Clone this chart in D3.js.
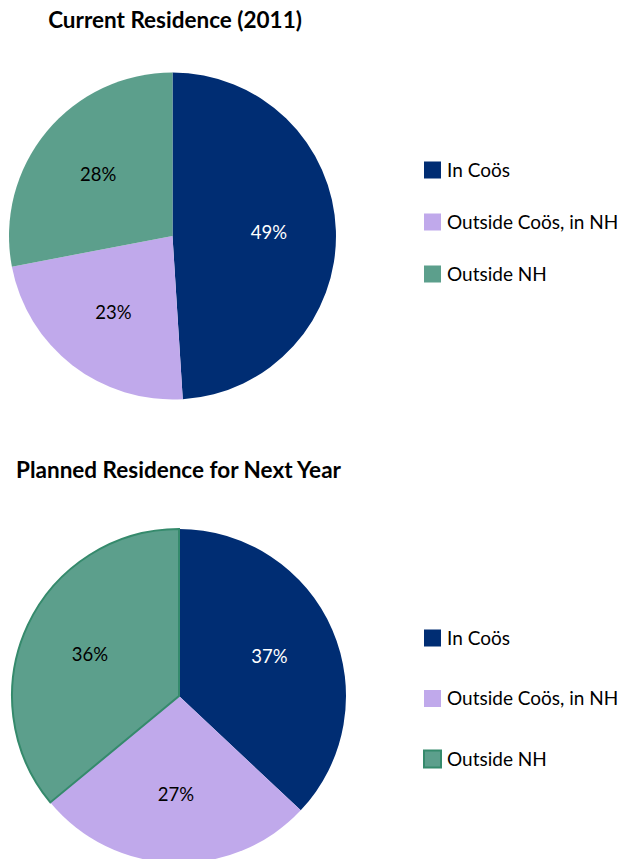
<!DOCTYPE html>
<html>
<head>
<meta charset="utf-8">
<script src="https://cdn.jsdelivr.net/npm/d3@7"></script>
<style>
  body { margin: 0; background: #fff; }
  svg { display: block; }
  text { font-family: "Lato", "Noto Sans", sans-serif; }
</style>
</head>
<body>
<svg id="chart" width="620" height="859"></svg>
<script>
"use strict";

const categories = ["In Coös", "Outside Coös, in NH", "Outside NH"];
const currentValues = [49, 23, 28];
const plannedValues = [37, 27, 36];
const titles = ["Current Residence (2011)", "Planned Residence for Next Year"];
const sliceColors = ["#002d73", "#c0a9eb", "#5c9f8c"];
const labelColors = ["#ffffff", "#000000", "#000000"];

const svg = d3.select("#chart");

// one panel per pie
const panels = [
    {title: titles[0], values: currentValues, titleX: 175, titleY: 28, cx: 172.5, cy: 236, r: 163.5,
     legendY: 170, legendStep: 52, outline: false},
    {title: titles[1], values: plannedValues, titleX: 178.5, titleY: 478, cx: 179, cy: 696, r: 167,
     legendY: 638, legendStep: 60.5, outline: true}
];

const color = d3.scaleOrdinal().domain(categories).range(sliceColors);
const labelColor = d3.scaleOrdinal().domain(categories).range(labelColors);

function drawPanel(p) {
    const data = categories.map((c, i) => ({name: c, value: p.values[i]}));
    const pie = d3.pie().sort(null).value(d => d.value);
    const arcs = pie(data);
    const arc = d3.arc().innerRadius(0).outerRadius(p.r);
    const labelArc = d3.arc().innerRadius(p.r * 0.59).outerRadius(p.r * 0.59);

    svg.append("text")
        .attr("x", p.titleX)
        .attr("y", p.titleY)
        .attr("text-anchor", "middle")
        .attr("font-size", 22.5)
        .attr("font-weight", "bold")
        .text(p.title);

    const g = svg.append("g").attr("transform", `translate(${p.cx},${p.cy})`);

    g.selectAll("path")
        .data(arcs)
        .join("path")
        .attr("d", arc)
        .attr("fill", d => color(d.data.name))
        .attr("stroke", d => (p.outline && d.data.name === "Outside NH") ? "#358a6c" : "none")
        .attr("stroke-width", 2);

    // redraw outlined slice on top so its border is not covered
    g.selectAll("path").filter(d => p.outline && d.data.name === "Outside NH").raise();

    g.selectAll("text")
        .data(arcs)
        .join("text")
        .attr("transform", d => `translate(${labelArc.centroid(d)})`)
        .attr("text-anchor", "middle")
        .attr("dy", "0.35em")
        .attr("font-size", 18.5)
        .attr("fill", d => labelColor(d.data.name))
        .text(d => d.data.value + "%");

    const legend = svg.append("g").attr("transform", `translate(424,${p.legendY})`);
    const items = legend.selectAll("g")
        .data(categories)
        .join("g")
        .attr("transform", (d, i) => `translate(0,${i * p.legendStep})`);
    items.append("rect")
        .attr("x", 0).attr("y", -8.5)
        .attr("width", 17).attr("height", 17)
        .attr("fill", d => color(d))
        .attr("stroke", d => (p.outline && d === "Outside NH") ? "#358a6c" : "none")
        .attr("stroke-width", 2);
    items.append("text")
        .attr("x", 23)
        .attr("dy", "0.35em")
        .attr("font-size", 19)
        .text(d => d);
}

panels.forEach(drawPanel);
</script>
</body>
</html>
